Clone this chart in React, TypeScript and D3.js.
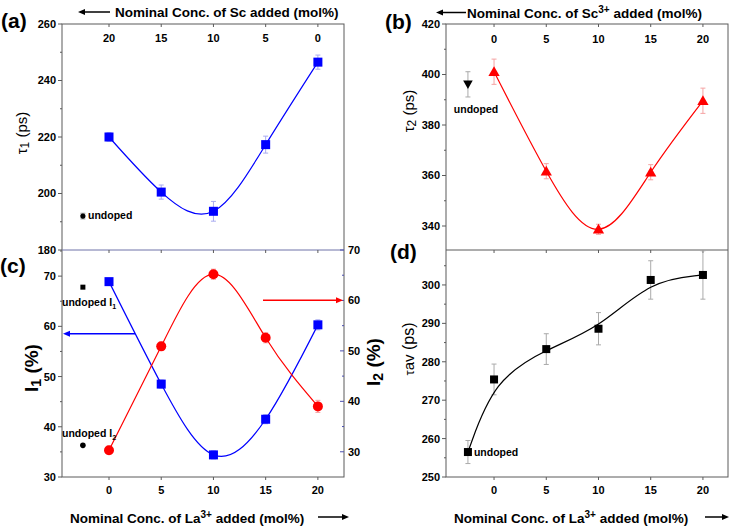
import React from "react";
import * as d3 from "d3";

// ---------- data ----------
const la = [0, 5, 10, 15, 20];
const undopedX = -2.5;
const topTicksA = ["20", "15", "10", "5", "0"];
const topTicksB = ["0", "5", "10", "15", "20"];
const bottomTicks = ["0", "5", "10", "15", "20"];

const tau1 = [220.0, 200.5, 193.7, 217.3, 246.5];
const tau1Err = [1.5, 2.5, 3.5, 3.0, 2.5];
const tau1Undoped = 192.0;
const tau1UndopedErr = 1.0;
const tau1Ticks = [180, 200, 220, 240, 260];

const tau2 = [401.1, 361.7, 338.7, 361.3, 389.6];
const tau2Err = [5, 3, 2, 3, 5];
const tau2Undoped = 396.1;
const tau2UndopedErr = 5;
const tau2Ticks = [340, 360, 380, 400, 420];

const i1 = [68.9, 48.5, 34.4, 41.5, 60.3];
const i1Err = [0.6, 0.8, 0.8, 0.9, 1.0];
const i2 = [30.3, 50.9, 65.2, 52.6, 39.0];
const i2Err = [0.8, 0.8, 1.0, 1.0, 1.2];
const i1Undoped = 67.8;
const i2Undoped = 36.3;
const i1Ticks = [30, 40, 50, 60, 70];
const i2Ticks = [30, 40, 50, 60, 70];

const tauAv = [275.4, 283.3, 288.6, 301.3, 302.6];
const tauAvErr = [4, 4, 4.2, 5, 6.3];
const tauAvUndoped = 256.5;
const tauAvUndopedErr = 3;
const tauAvTicks = [250, 260, 270, 280, 290, 300];

// ---------- style ----------
const FONT = "'Liberation Sans', Arial, Helvetica, sans-serif";
const AX = "#5a5a5a";
const BLUE = "#0000ff";
const RED = "#ff0000";

// ---------- geometry ----------
const L1 = 62, R1 = 344, L2 = 446, R2 = 728;
const T = 24, M = 250, B = 477;

const xA = d3.scaleLinear().domain([-4.5, 22.5]).range([L1, R1]);
const xB = d3.scaleLinear().domain([-4.6, 22.4]).range([L2, R2]);
const yA = d3.scaleLinear().domain([180, 260]).range([M, T]);
const yB = d3.scaleLinear().domain([330.5, 420]).range([M, T]);
const yC = d3.scaleLinear().domain([30, 75.2]).range([B, M]);
const yC2 = d3.scaleLinear().domain([25, 70]).range([B, M]);
const yD = d3.scaleLinear().domain([250, 309.1]).range([B, M]);

type Sc = d3.ScaleLinear<number, number>;

function LeftAxis({ x, y, ticks, minorStep }: { x: number; y: Sc; ticks: number[]; minorStep: number }) {
  const [d0, d1] = y.domain();
  const minors: number[] = [];
  for (let v = Math.ceil(d0 / minorStep) * minorStep; v <= d1 + 1e-9; v += minorStep) {
    if (!ticks.some((t) => Math.abs(t - v) < 1e-6)) minors.push(v);
  }
  return (
    <g>
      {ticks.map((t) => (
        <g key={"t" + t}>
          <line x1={x - 4} x2={x} y1={y(t)} y2={y(t)} stroke={AX} />
          <text x={x - 6} y={y(t)} dy="0.36em" textAnchor="end" fontSize={11} fontWeight="bold" fontFamily={FONT}>
            {t}
          </text>
        </g>
      ))}
      {minors.map((t) => (
        <line key={"m" + t} x1={x - 2} x2={x} y1={y(t)} y2={y(t)} stroke={AX} />
      ))}
    </g>
  );
}

function XTicks({ x, y0, dir, labels, labelY }: { x: Sc; y0: number; dir: number; labels?: string[]; labelY?: number }) {
  return (
    <g>
      {la.map((v, i) => (
        <g key={v}>
          <line x1={x(v)} x2={x(v)} y1={y0} y2={y0 + dir * 3} stroke={AX} />
          {labels && (
            <text x={x(v)} y={labelY} dy="0.36em" textAnchor="middle" fontSize={11} fontWeight="bold" fontFamily={FONT}>
              {labels[i]}
            </text>
          )}
        </g>
      ))}
    </g>
  );
}

function ErrBar({ cx, y, v, e, color }: { cx: number; y: Sc; v: number; e: number; color: string }) {
  const y1 = y(v - e), y2 = y(v + e);
  return (
    <g stroke={color} strokeWidth={1}>
      <line x1={cx} x2={cx} y1={y1} y2={y2} />
      <line x1={cx - 2.5} x2={cx + 2.5} y1={y1} y2={y1} />
      <line x1={cx - 2.5} x2={cx + 2.5} y1={y2} y2={y2} />
    </g>
  );
}

function Square({ cx, cy, s, color }: { cx: number; cy: number; s: number; color: string }) {
  return <rect x={cx - s / 2} y={cy - s / 2} width={s} height={s} fill={color} />;
}

function TriUp({ cx, cy, s, color }: { cx: number; cy: number; s: number; color: string }) {
  const p = d3.symbol(d3.symbolTriangle, s)();
  return <path d={p || ""} transform={`translate(${cx},${cy})`} fill={color} />;
}

function Arrow({ x1, x2, y, color, head = 7 }: { x1: number; x2: number; y: number; color: string; head?: number }) {
  const d = x2 > x1 ? 1 : -1;
  return (
    <g>
      <line x1={x1} x2={x2 - d * head} y1={y} y2={y} stroke={color} strokeWidth={1.5} />
      <path d={`M${x2},${y} L${x2 - d * head},${y - 3} L${x2 - d * head},${y + 3} Z`} fill={color} />
    </g>
  );
}

function curvePath(xs: number[], ys: number[], x: Sc, y: Sc, curve: d3.CurveFactory) {
  const pts = xs.map((v, i) => [v, ys[i]] as [number, number]);
  return (
    d3
      .line<[number, number]>()
      .x((d) => x(d[0]))
      .y((d) => y(d[1]))
      .curve(curve)(pts) || ""
  );
}

export default function App() {
  const lineA = curvePath(la, tau1, xA, yA, d3.curveNatural);
  const lineB = curvePath(la, tau2, xB, yB, d3.curveNatural);
  const lineC1 = curvePath(la, i1, xA, yC, d3.curveNatural);
  const lineC2 = curvePath(la, i2, xA, yC2, d3.curveNatural);
  const lineD = curvePath([undopedX, ...la], [tauAvUndoped, ...tauAv], xB, yD, d3.curveBasis);

  return (
    <svg width={732} height={526} style={{ position: "absolute", left: 0, top: 0, background: "#fff" }} fontFamily={FONT}>
      <rect x={0} y={0} width={732} height={526} fill="#fff" />

      {/* ---------- frames ---------- */}
      <rect x={L1} y={T} width={R1 - L1} height={B - T} fill="none" stroke={AX} />
      <line x1={L1} x2={R1} y1={M} y2={M} stroke="#6f73a8" />
      <rect x={L2} y={T} width={R2 - L2} height={B - T} fill="none" stroke={AX} />
      <line x1={L2} x2={R2} y1={M} y2={M} stroke={AX} />

      {/* ---------- panel (a) ---------- */}
      <text x={1} y={28} fontSize={21} fontWeight="bold">(a)</text>
      <Arrow x1={110} x2={78} y={12} color="#000" />
      <text x={115} y={17} fontSize={13.5} fontWeight="bold">Nominal Conc. of Sc added (mol%)</text>
      <LeftAxis x={L1} y={yA} ticks={tau1Ticks} minorStep={10} />
      <XTicks x={xA} y0={T} dir={1} labels={topTicksA} labelY={38} />
      <XTicks x={xA} y0={M} dir={1} />
      <text transform={`translate(27,133) rotate(-90)`} textAnchor="middle" fontSize={15}>
        τ<tspan fontSize={12} dy={2}>1</tspan>
        <tspan dy={-2}> (ps)</tspan>
      </text>
      {la.map((v, i) => (
        <ErrBar key={v} cx={xA(v)} y={yA} v={tau1[i]} e={tau1Err[i]} color="#a9abf0" />
      ))}
      <path d={lineA} fill="none" stroke={BLUE} strokeWidth={1.2} />
      {la.map((v, i) => (
        <Square key={v} cx={xA(v)} cy={yA(tau1[i])} s={9} color={BLUE} />
      ))}
      <ErrBar cx={xA(undopedX)} y={yA} v={tau1Undoped} e={tau1UndopedErr} color="#999" />
      <circle cx={xA(undopedX)} cy={yA(tau1Undoped)} r={2.6} fill="#000" />
      <text x={88} y={yA(tau1Undoped) - 1} dy="0.36em" fontSize={10.5} fontWeight="bold">undoped</text>

      {/* ---------- panel (b) ---------- */}
      <text x={385} y={29} fontSize={21} fontWeight="bold">(b)</text>
      <Arrow x1={466} x2={436} y={12.5} color="#000" />
      <text x={467} y={18} fontSize={13.5} fontWeight="bold">
        Nominal Conc. of Sc<tspan fontSize={10} dy={-5}>3+</tspan>
        <tspan dy={5}> added (mol%)</tspan>
      </text>
      <LeftAxis x={L2} y={yB} ticks={tau2Ticks} minorStep={10} />
      <XTicks x={xB} y0={T} dir={1} labels={topTicksB} labelY={39} />
      <text transform={`translate(414,111) rotate(-90)`} textAnchor="middle" fontSize={15}>
        τ<tspan fontSize={12} dy={2}>2</tspan>
        <tspan dy={-2}> (ps)</tspan>
      </text>
      {la.map((v, i) => (
        <ErrBar key={v} cx={xB(v)} y={yB} v={tau2[i]} e={tau2Err[i]} color="#f5a3a3" />
      ))}
      <path d={lineB} fill="none" stroke={RED} strokeWidth={1.2} />
      {la.map((v, i) => (
        <TriUp key={v} cx={xB(v)} cy={yB(tau2[i]) + 1} s={55} color={RED} />
      ))}
      <ErrBar cx={xB(undopedX)} y={yB} v={tau2Undoped} e={tau2UndopedErr} color="#aaa" />
      <path
        d={d3.symbol(d3.symbolTriangle, 40)() || ""}
        transform={`translate(${xB(undopedX)},${yB(tau2Undoped) - 1}) rotate(180)`}
        fill="#000"
      />
      <text x={476} y={109} dy="0.36em" textAnchor="middle" fontSize={10.5} fontWeight="bold">undoped</text>

      {/* ---------- panel (c) ---------- */}
      <text x={0} y={273} fontSize={21} fontWeight="bold">(c)</text>
      <LeftAxis x={L1} y={yC} ticks={i1Ticks} minorStep={5} />
      {/* right axis */}
      {i2Ticks.map((t) => (
        <g key={t}>
          <line x1={R1 - 4} x2={R1} y1={yC2(t)} y2={yC2(t)} stroke="#4b4fb0" />
          <text x={R1 + 4} y={yC2(t)} dy="0.36em" fontSize={11} fontWeight="bold">{t}</text>
        </g>
      ))}
      {[35, 45, 55, 65].map((t) => (
        <line key={t} x1={R1 - 2} x2={R1} y1={yC2(t)} y2={yC2(t)} stroke="#4b4fb0" />
      ))}
      <XTicks x={xA} y0={B} dir={1} labels={bottomTicks} labelY={490} />
      <text transform={`translate(38,368) rotate(-90)`} textAnchor="middle" fontSize={19} fontWeight="bold">
        I<tspan fontSize={14} dy={3}>1</tspan>
        <tspan dy={-3}> (%)</tspan>
      </text>
      <text transform={`translate(380,362) rotate(-90)`} textAnchor="middle" fontSize={19} fontWeight="bold">
        I<tspan fontSize={14} dy={3}>2</tspan>
        <tspan dy={-3}> (%)</tspan>
      </text>
      <text x={70} y={523} fontSize={13.5} fontWeight="bold">
        Nominal Conc. of La<tspan fontSize={10} dy={-5}>3+</tspan>
        <tspan dy={5}> added (mol%)</tspan>
      </text>
      <Arrow x1={318} x2={349} y={517} color="#000" />
      {la.map((v, i) => (
        <ErrBar key={"e1" + v} cx={xA(v)} y={yC} v={i1[i]} e={i1Err[i]} color="#a9abf0" />
      ))}
      {la.map((v, i) => (
        <ErrBar key={"e2" + v} cx={xA(v)} y={yC2} v={i2[i]} e={i2Err[i]} color="#f5a3a3" />
      ))}
      <path d={lineC1} fill="none" stroke={BLUE} strokeWidth={1.2} />
      <path d={lineC2} fill="none" stroke={RED} strokeWidth={1.2} />
      {la.map((v, i) => (
        <Square key={"s" + v} cx={xA(v)} cy={yC(i1[i])} s={9} color={BLUE} />
      ))}
      {la.map((v, i) => (
        <circle key={"c" + v} cx={xA(v)} cy={yC2(i2[i])} r={5} fill={RED} />
      ))}
      <rect x={xA(undopedX) - 2.5} y={yC(i1Undoped) - 2.5} width={5} height={5} fill="#000" />
      <circle cx={xA(undopedX)} cy={yC(i2Undoped)} r={2.8} fill="#000" />
      <text x={62} y={302} dy="0.36em" fontSize={10.5} fontWeight="bold">
        undoped I<tspan fontSize={7} dy={3}>1</tspan>
      </text>
      <text x={62} y={433} dy="0.36em" fontSize={10.5} fontWeight="bold">
        undoped I<tspan fontSize={7} dy={3}>2</tspan>
      </text>
      <Arrow x1={135} x2={63} y={333.7} color={BLUE} />
      <Arrow x1={263} x2={343} y={300.3} color={RED} />

      {/* ---------- panel (d) ---------- */}
      <text x={390} y={259} fontSize={21} fontWeight="bold">(d)</text>
      <LeftAxis x={L2} y={yD} ticks={tauAvTicks} minorStep={5} />
      <XTicks x={xB} y0={M} dir={1} />
      <XTicks x={xB} y0={B} dir={1} labels={bottomTicks} labelY={490} />
      <text transform={`translate(414,349) rotate(-90)`} textAnchor="middle" fontSize={16}>
        <tspan fontSize={13}>τ</tspan>
        <tspan fontSize={15}>av</tspan>
        <tspan> (ps)</tspan>
      </text>
      <text x={454} y={523} fontSize={13.5} fontWeight="bold">
        Nominal Conc. of La<tspan fontSize={10} dy={-5}>3+</tspan>
        <tspan dy={5}> added (mol%)</tspan>
      </text>
      <Arrow x1={705} x2={729} y={517} color="#000" />
      {la.map((v, i) => (
        <ErrBar key={v} cx={xB(v)} y={yD} v={tauAv[i]} e={tauAvErr[i]} color="#aaa" />
      ))}
      <ErrBar cx={xB(undopedX)} y={yD} v={tauAvUndoped} e={tauAvUndopedErr} color="#aaa" />
      <path d={lineD} fill="none" stroke="#000" strokeWidth={1.2} />
      {[undopedX, ...la].map((v, i) => (
        <Square key={v} cx={xB(v)} cy={yD([tauAvUndoped, ...tauAv][i])} s={8} color="#000" />
      ))}
      <text x={xB(undopedX) + 6} y={yD(tauAvUndoped)} dy="0.36em" fontSize={10.5} fontWeight="bold">undoped</text>
    </svg>
  );
}
